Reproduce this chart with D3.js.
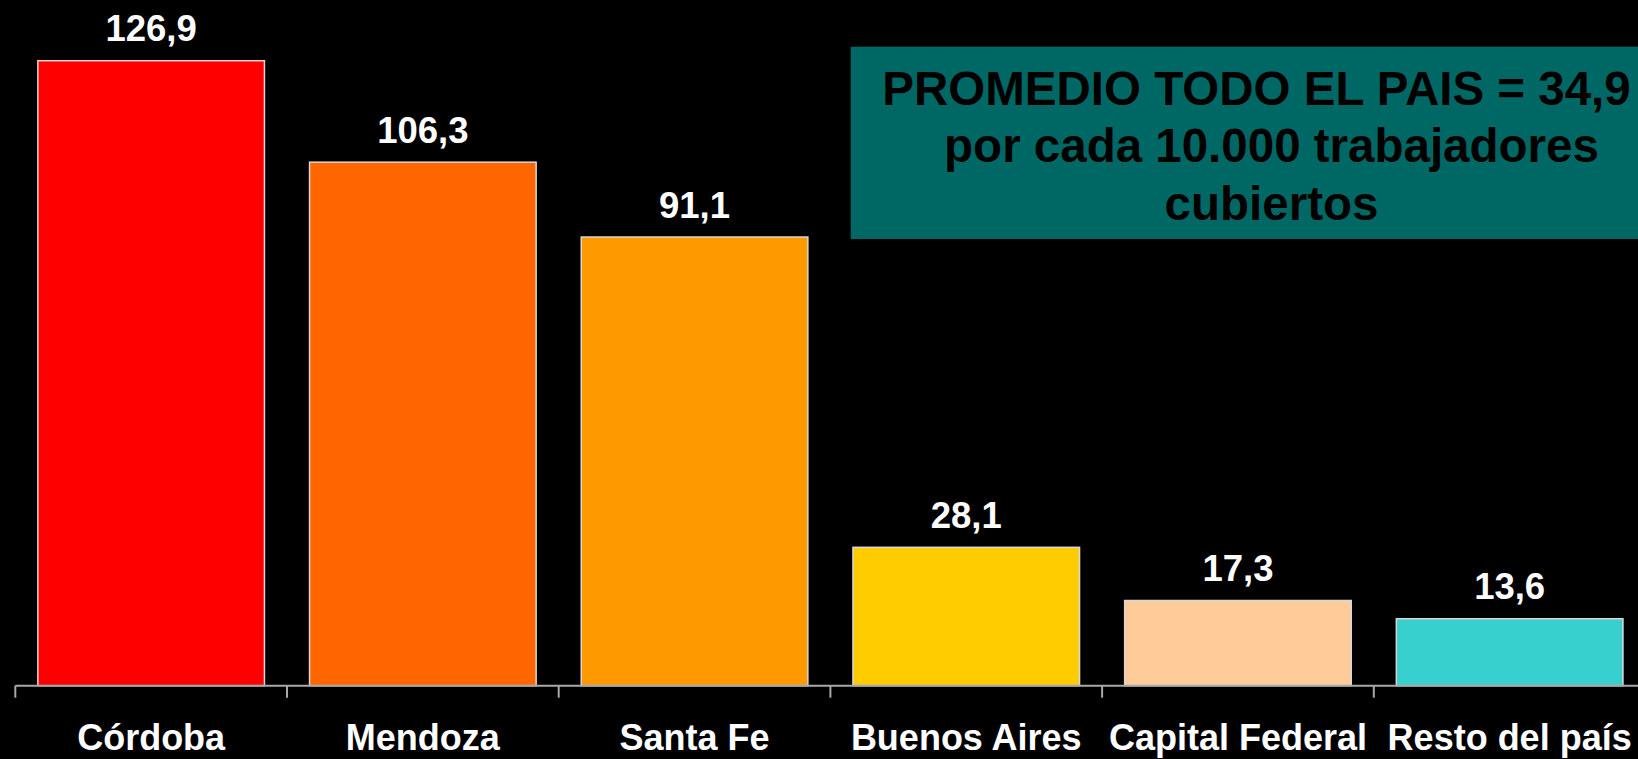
<!DOCTYPE html>
<html>
<head>
<meta charset="utf-8">
<script src="https://cdn.jsdelivr.net/npm/d3@7"></script>
<style>
  html, body { margin: 0; padding: 0; background: #000; overflow: hidden; }
  svg { display: block; }
  text { font-family: "Liberation Sans", Arial, sans-serif; font-weight: bold; }
</style>
</head>
<body>
<svg id="chart" width="1638" height="759"></svg>
<script>
const categories = ["Córdoba", "Mendoza", "Santa Fe", "Buenos Aires", "Capital Federal", "Resto del país"];
const values = [126.9, 106.3, 91.1, 28.1, 17.3, 13.6];
const valueLabels = ["126,9", "106,3", "91,1", "28,1", "17,3", "13,6"];
const barColors = ["#FF0000", "#FF6600", "#FF9900", "#FFCC00", "#FFCC99", "#38CFCF"];
const noteLines = ["PROMEDIO TODO EL PAIS = 34,9", "por cada 10.000 trabajadores", "cubiertos"];

const W = 1638, H = 759;
const svg = d3.select("#chart");
svg.append("rect").attr("width", W).attr("height", H).attr("fill", "#000");

const baseY = 685.7;
const x0 = 15.3, step = 271.7;
const x = d3.scaleBand().domain(categories)
  .range([x0, x0 + step * categories.length])
  .paddingInner(0.166).paddingOuter(0.083);
const xTicks = d3.scaleBand().domain(categories)
  .range([x0, x0 + step * categories.length]).padding(0);
const y = d3.scaleLinear().domain([0, 140]).range([baseY, baseY - 140 * 4.925]);

const data = categories.map((c, i) => ({ c, v: values[i], lab: valueLabels[i], col: barColors[i] }));

// Annotation box
const box = svg.append("g");
box.append("rect").attr("x", 850.7).attr("y", 46.7).attr("width", W - 850.7 + 10).attr("height", 192.3)
  .attr("fill", "#006864");
const noteX = [1256.5, 1271.5, 1271.5];
const noteY = [105, 162, 220];
box.selectAll("text").data(noteLines).join("text")
  .attr("x", (d, i) => noteX[i]).attr("y", (d, i) => noteY[i])
  .attr("text-anchor", "middle").attr("font-size", 47.5).attr("fill", "#000")
  .text(d => d);

// Bars
svg.append("g").selectAll("rect").data(data).join("rect")
  .attr("x", d => x(d.c)).attr("width", x.bandwidth())
  .attr("y", d => y(d.v)).attr("height", d => baseY - y(d.v))
  .attr("fill", d => d.col)
  .attr("stroke", "#d8d8d8").attr("stroke-width", 1.5);

// Value labels
svg.append("g").selectAll("text").data(data).join("text")
  .attr("x", d => x(d.c) + x.bandwidth() / 2)
  .attr("y", d => y(d.v) - 19.5)
  .attr("text-anchor", "middle").attr("font-size", 36.5).attr("fill", "#fff")
  .text(d => d.lab);

// Axis
const axisG = svg.append("g");
axisG.append("line").attr("x1", x0).attr("x2", W).attr("y1", baseY).attr("y2", baseY)
  .attr("stroke", "#a8a8a8").attr("stroke-width", 2);
axisG.selectAll("line.tick").data(categories).join("line").attr("class", "tick")
  .attr("x1", d => xTicks(d)).attr("x2", d => xTicks(d))
  .attr("y1", baseY).attr("y2", baseY + 12)
  .attr("stroke", "#a8a8a8").attr("stroke-width", 2);

// Category labels
svg.append("g").selectAll("text").data(categories).join("text")
  .attr("x", d => x(d) + x.bandwidth() / 2)
  .attr("y", 750)
  .attr("text-anchor", "middle").attr("font-size", 36).attr("fill", "#fff")
  .text(d => d);
</script>
</body>
</html>
